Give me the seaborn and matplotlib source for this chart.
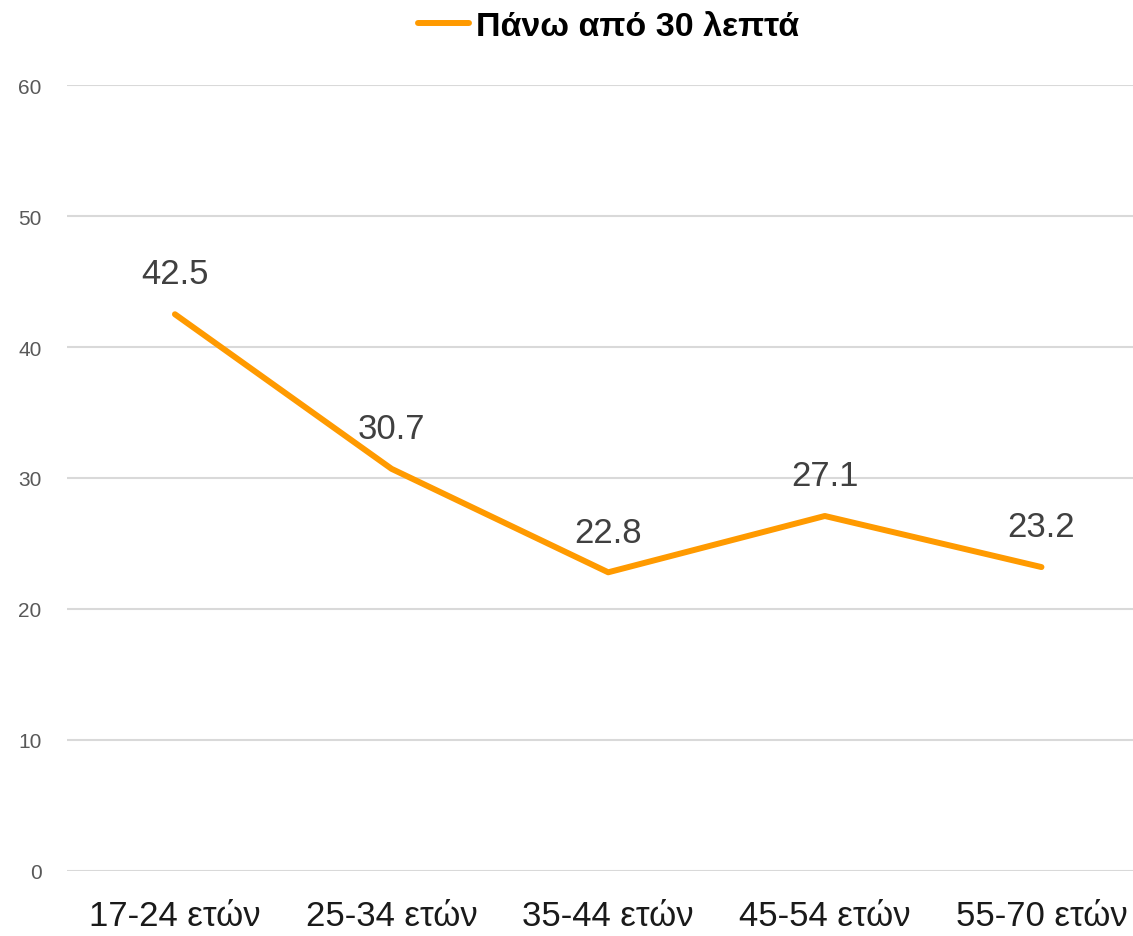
import pandas as pd
import matplotlib
matplotlib.use("Agg")
import matplotlib.pyplot as plt
import seaborn as sns

# data
age_groups = ["17-24 ετών", "25-34 ετών", "35-44 ετών", "45-54 ετών", "55-70 ετών"]
values = [42.5, 30.7, 22.8, 27.1, 23.2]
series_name = "Πάνω από 30 λεπτά"

df = pd.DataFrame({"age": age_groups, "value": values, "series": series_name})

sns.set_theme(style="white")
plt.rcParams['font.family'] = ['Liberation Sans', 'DejaVu Sans']

fig = plt.figure(figsize=(11.33, 9.37), dpi=100)
ax = fig.add_axes([0.0588, 0.0694, 0.956, 0.8388])

sns.lineplot(data=df, x="age", y="value", hue="series", palette=["#FF9A00"],
             linewidth=4.3, sort=False, ax=ax, legend=False)
for ln in ax.lines:
    ln.set_solid_capstyle("round")

# value labels
for i, v in enumerate(values):
    ax.annotate(f"{v}", (i, v), xytext=(0, 29), textcoords="offset points",
                ha="center", va="center", fontsize=25, color="#404040")

ax.set_ylim(0, 60)
ax.set_xlim(-0.5, 4.5)
ax.set_yticks(range(0, 61, 10))
ax.yaxis.grid(True, color="#D9D9D9", linewidth=1.5)
ax.xaxis.grid(False)
ax.set_axisbelow(True)
for s in ax.spines.values():
    s.set_visible(False)
ax.tick_params(axis="y", labelsize=15, labelcolor="#595959", length=0, pad=18)
ax.tick_params(axis="x", labelsize=25, labelcolor="#1a1a1a", length=0, pad=20)
ax.set_xlabel("")
ax.set_ylabel("")

# legend at top
handle = plt.Line2D([], [], color="#FF9A00", linewidth=4.3, solid_capstyle="round")
fig.legend([handle], [series_name], loc="upper center", bbox_to_anchor=(0.537, 1.02),
           frameon=False, handlelength=1.5, handletextpad=0.2, labelcolor="#000000",
           prop={"family": ["Liberation Sans", "DejaVu Sans"], "weight": "bold", "size": 24.5})

fig.savefig("out.png", dpi=100)
